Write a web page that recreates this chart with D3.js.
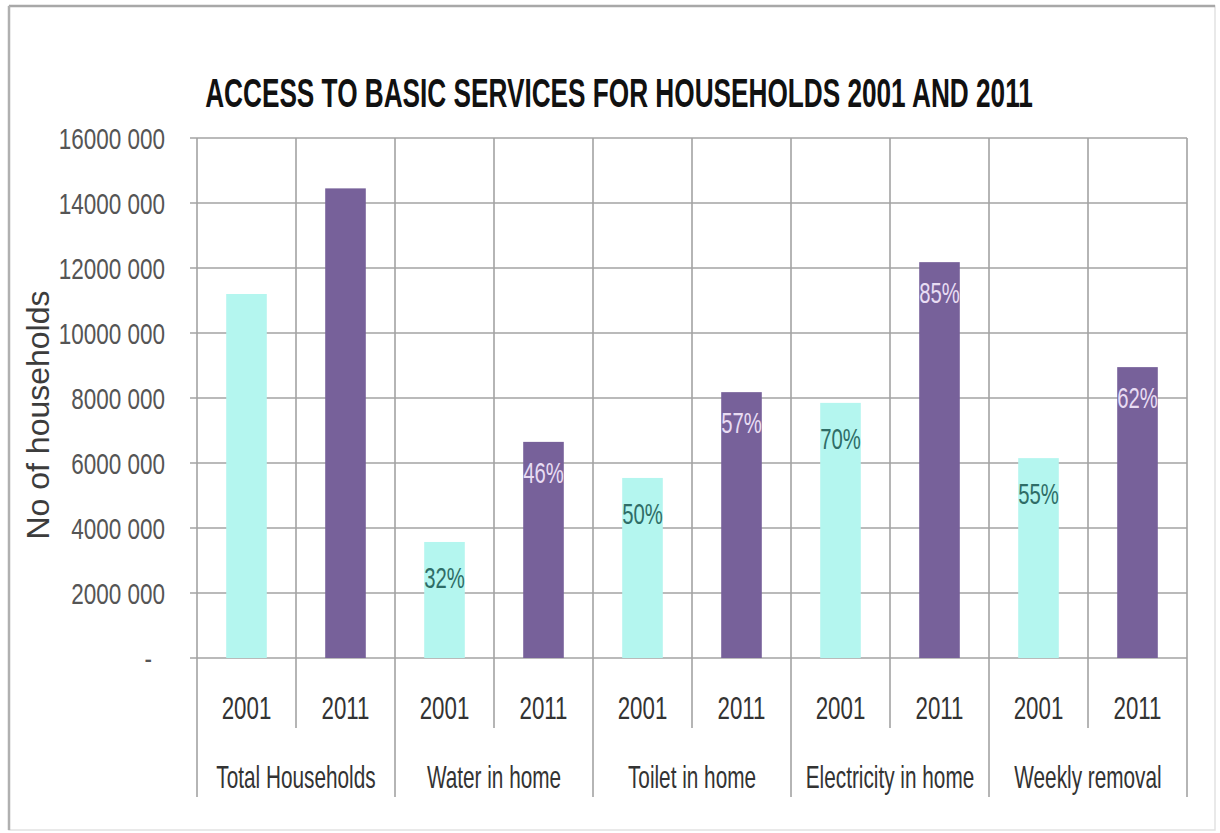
<!DOCTYPE html>
<html>
<head>
<meta charset="utf-8">
<script src="https://d3js.org/d3.v7.min.js"></script>
<style>
  body { margin: 0; background: #fff; }
  text { font-family: "Liberation Sans", Arial, sans-serif; }
</style>
</head>
<body>
<div id="chart"></div>
<script>
// data
var categories = ["Total Households", "Water in home", "Toilet in home", "Electricity in home", "Weekly removal"];
var years = ["2001", "2011"];
var values2001 = [11200000, 3570000, 5540000, 7850000, 6150000];
var values2011 = [14450000, 6650000, 8180000, 12180000, 8950000];
var pct2001 = ["", "32%", "50%", "70%", "55%"];
var pct2011 = ["", "46%", "57%", "85%", "62%"];
var yTicks = [0, 2000000, 4000000, 6000000, 8000000, 10000000, 12000000, 14000000, 16000000];
var yTickLabels = ["-", "2000 000", "4000 000", "6000 000", "8000 000", "10000 000", "12000 000", "14000 000", "16000 000"];

var W = 1220, H = 833;
var plotLeft = 197, plotRight = 1187, plotTop = 138, plotBottom = 658;
var gridColor = "#a3a3a3";

// squeeze a text horizontally (narrow look of the original) by scaling about its anchor
function condense(sel, k) {
  sel.each(function () {
    var t = d3.select(this);
    var tx = +t.attr("x") || 0, ty = +t.attr("y") || 0;
    var base = t.attr("transform") || "";
    t.attr("x", 0).attr("y", 0)
      .attr("transform", base + " translate(" + tx + "," + ty + ") scale(" + k + ",1)");
  });
}

var svg = d3.select("#chart").append("svg")
    .attr("width", W).attr("height", H);

// outer frame
svg.append("rect").attr("x", 9).attr("y", 6).attr("width", 1206).attr("height", 824)
    .attr("fill", "#fff").attr("stroke", "#e2e2e2").attr("stroke-width", 1.5);
svg.append("line").attr("x1", 9).attr("x2", 1215).attr("y1", 6).attr("y2", 6)
    .attr("stroke", "#a8a8a8").attr("stroke-width", 2.5);
svg.append("line").attr("x1", 9).attr("x2", 9).attr("y1", 6).attr("y2", 830)
    .attr("stroke", "#b0b0b0").attr("stroke-width", 2.5);

var rows = categories.map(function (c, i) {
  return { cat: c, vals: [values2001[i], values2011[i]], pcts: [pct2001[i], pct2011[i]] };
});

var x0 = d3.scaleBand().domain(categories).range([plotLeft, plotRight]).padding(0);
var x1 = d3.scaleBand().domain(years).range([0, x0.bandwidth()])
    .paddingInner(0.59).paddingOuter(0.295);
var y = d3.scaleLinear().domain([0, 16000000]).range([plotBottom, plotTop]);

// horizontal gridlines
svg.append("g").selectAll("line").data(yTicks).enter().append("line")
    .attr("x1", plotLeft - 7).attr("x2", plotRight)
    .attr("y1", function (d) { return y(d); }).attr("y2", function (d) { return y(d); })
    .attr("stroke", gridColor).attr("stroke-width", 1.6);

// vertical gridlines: group edges run down past the group labels, year edges past the year labels
var vlines = [];
categories.forEach(function (c) {
  vlines.push({ x: x0(c), end: 797 });
  vlines.push({ x: x0(c) + x0.bandwidth() / 2, end: 728 });
});
vlines.push({ x: plotRight, end: 797 });
svg.append("g").selectAll("line").data(vlines).enter().append("line")
    .attr("x1", function (d) { return d.x; }).attr("x2", function (d) { return d.x; })
    .attr("y1", plotTop).attr("y2", function (d) { return d.end; })
    .attr("stroke", gridColor).attr("stroke-width", 1.6);

// y tick labels
svg.append("g").selectAll("text").data(yTicks).enter().append("text")
    .attr("x", function (d) { return d === 0 ? 152 : 165; })
    .attr("y", function (d) { return y(d) + 11; })
    .attr("text-anchor", "end")
    .attr("font-size", 30).attr("fill", "#555")
    .text(function (d, i) { return yTickLabels[i]; })
    .call(condense, 0.75);

// y axis title
svg.append("text")
    .attr("transform", "translate(49,415) rotate(-90)")
    .attr("text-anchor", "middle")
    .attr("font-size", 32).attr("fill", "#3c3c3c")
    .text("No of households");

// title, squeezed to the width it has in the original
var title = svg.append("text")
    .attr("x", 619).attr("y", 107)
    .attr("text-anchor", "middle")
    .attr("font-size", 40).attr("font-weight", "bold").attr("fill", "#111")
    .text("ACCESS TO BASIC SERVICES FOR HOUSEHOLDS 2001 AND 2011");
title.call(condense, 828 / title.node().getComputedTextLength());

var colors = ["#b4f6ef", "#77619a"];
var labelColors = ["#2f6d67", "#e8dcf3"];
var labelOffset = [46, 41];

var groups = svg.append("g").selectAll("g").data(rows).enter().append("g")
    .attr("transform", function (d) { return "translate(" + x0(d.cat) + ",0)"; });

groups.selectAll("rect").data(function (d) {
  return years.map(function (yr, j) { return { yr: yr, j: j, v: d.vals[j] }; });
}).enter().append("rect")
    .attr("x", function (d) { return x1(d.yr); })
    .attr("width", x1.bandwidth())
    .attr("y", function (d) { return y(d.v); })
    .attr("height", function (d) { return plotBottom - y(d.v); })
    .attr("fill", function (d) { return colors[d.j]; });

groups.selectAll("text.pct").data(function (d) {
  return years.map(function (yr, j) { return { yr: yr, j: j, v: d.vals[j], p: d.pcts[j] }; })
    .filter(function (e) { return e.p !== ""; });
}).enter().append("text").attr("class", "pct")
    .attr("x", function (d) { return x1(d.yr) + x1.bandwidth() / 2; })
    .attr("y", function (d) { return y(d.v) + labelOffset[d.j]; })
    .attr("text-anchor", "middle")
    .attr("font-size", 29)
    .attr("fill", function (d) { return labelColors[d.j]; })
    .text(function (d) { return d.p; })
    .call(condense, 0.7);

// year labels
groups.selectAll("text.yr").data(years).enter().append("text").attr("class", "yr")
    .attr("x", function (d) { return x1(d) + x1.bandwidth() / 2; })
    .attr("y", 719)
    .attr("text-anchor", "middle")
    .attr("font-size", 31).attr("fill", "#333")
    .text(function (d) { return d; })
    .call(condense, 0.72);

// category labels
groups.append("text")
    .attr("x", x0.bandwidth() / 2)
    .attr("y", 788)
    .attr("text-anchor", "middle")
    .attr("font-size", 31).attr("fill", "#333")
    .text(function (d) { return d.cat; })
    .call(condense, 0.67);
</script>
</body>
</html>
